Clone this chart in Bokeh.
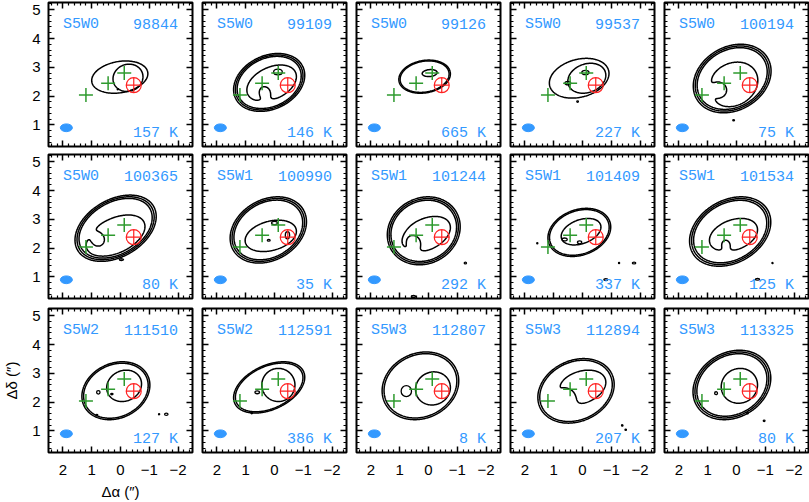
import numpy as np
from bokeh.plotting import figure
from bokeh.layouts import column, row
from bokeh.models import Range1d, LinearAxis, FixedTicker, CustomJSTickFormatter, Label
from bokeh.embed import file_html
from bokeh.resources import INLINE

# ---------------- data ----------------
fields = ["S5W0"] * 6 + ["S5W1"] * 4 + ["S5W2"] * 2 + ["S5W3"] * 3
ids = ["98844", "99109", "99126", "99537", "100194",
       "100365", "100990", "101244", "101409", "101534",
       "111510", "112591", "112807", "112894", "113325"]
temps = [157, 146, 665, 227, 75, 80, 35, 292, 337, 125, 127, 386, 8, 207, 80]

cross_x = [1.2, 0.43, -0.13]
cross_y = [2.04, 2.45, 2.80]
peak_x = [-0.46]
peak_y = [2.38]
beam_x, beam_y, beam_w, beam_h = [1.88], [0.90], 0.42, 0.27

# outer contour envelope: left x, right x, bottom y, top y, tilt (deg), number of outer levels
outer_xl = [1.00, 1.42, 1.03, 1.15, 1.50, 1.58, 1.54, 1.43, 1.20, 1.63, 1.34, 1.42, 1.61, 1.55, 1.51]
outer_xr = [-0.95, -1.05, -0.76, -0.92, -1.20, -1.24, -1.11, -1.10, -0.98, -1.19, -1.02, -1.05, -1.05, -1.10, -1.19]
outer_yb = [2.10, 1.47, 2.10, 1.93, 1.42, 1.54, 1.48, 1.42, 1.71, 1.37, 1.39, 1.62, 1.39, 1.27, 1.39]
outer_yt = [3.22, 3.48, 3.25, 3.31, 3.80, 3.84, 3.78, 3.78, 3.38, 3.78, 3.40, 3.40, 3.74, 3.51, 3.80]
outer_tilt = [10, 25, 10, 15, 30, 30, 30, 30, 20, 30, 25, 25, 25, 25, 30]
n_outer = [1, 3, 2, 1, 3, 3, 3, 3, 2, 3, 2, 2, 2, 2, 3]

# inner contour: extents, tilt, and depression (x, y, width, depth)
inner_xl = [0.26, 0.96, 0.22, 0.51, 0.98, 1.20, 1.02, 0.95, 0.74, 0.94, 0.48, 0.44, 0.45, 0.91, 0.53]
inner_xr = [-0.78, -0.76, -0.30, -0.81, -0.74, -0.85, -0.76, -0.76, -0.64, -0.73, -0.73, -0.71, -0.76, -0.81, -0.73]
inner_yb = [2.16, 1.81, 2.68, 2.10, 1.63, 1.72, 1.88, 1.85, 2.11, 1.88, 2.02, 2.02, 1.90, 1.90, 1.96]
inner_yt = [3.11, 3.08, 2.92, 3.14, 3.18, 3.15, 2.97, 3.10, 3.03, 3.03, 3.11, 3.17, 3.05, 3.11, 3.17]
inner_tilt = [20, 25, 5, 20, 30, 25, 15, 25, 20, 20, 25, 25, 25, 20, 25]
hole_x = [0, 0.32, 0, 0, 0.50, 0.72, 0, 0.45, 0, 0.35, 0, 0, 0, 0.45, 0]
hole_y = [0, 2.20, 0, 0, 2.25, 2.30, 0, 2.25, 0, 2.20, 0, 0, 0, 2.25, 0]
hole_s = [0.1, 0.17, 0.1, 0.1, 0.20, 0.16, 0.1, 0.18, 0.1, 0.15, 0.1, 0.1, 0.1, 0.20, 0.1]
hole_d = [0, 0.8, 0, 0, 0.8, 0.9, 0, 0.8, 0, 0.6, 0, 0, 0, 0.8, 0]

# small isolated contours: panel index, x, y, width, height
loop_panel = [0, 1, 3, 3, 3, 4, 5, 6, 6, 6, 7, 7, 8, 8, 8, 8, 8, 8, 9, 9,
              10, 10, 10, 10, 10, 11, 11, 12, 13, 13, 14, 14, 14]
loop_x = [0.09, -0.12, 0.51, -0.10, 0.17, 0.10, -0.03, 0.00, 0.20, -0.45, -1.28, 0.52,
          0.62, 0.10, 1.57, -1.27, -1.79, -0.81, -1.25, -0.73,
          0.77, -1.59, -1.34, 0.82, 0.30, 0.60, 0.79, 0.77, -1.38, -1.50, 0.71, -0.38, -0.96]
loop_y = [2.24, 2.84, 2.45, 2.82, 1.81, 1.16, 1.60, 2.87, 2.27, 2.45, 1.48, 0.32,
          2.30, 2.20, 2.17, 1.48, 1.48, 0.91, 1.48, 0.92,
          2.34, 1.58, 1.58, 1.55, 2.28, 2.34, 1.62, 2.38, 1.19, 1.04, 2.31, 1.62, 1.35]
loop_w = [0.05, 0.30, 0.20, 0.25, 0.06, 0.06, 0.15, 0.20, 0.10, 0.15, 0.08, 0.15,
          0.18, 0.15, 0.04, 0.04, 0.12, 0.14, 0.04, 0.15,
          0.12, 0.12, 0.04, 0.06, 0.08, 0.16, 0.05, 0.36, 0.05, 0.05, 0.10, 0.06, 0.06]
loop_h = [0.04, 0.20, 0.12, 0.15, 0.05, 0.04, 0.06, 0.12, 0.06, 0.25, 0.06, 0.07,
          0.10, 0.10, 0.04, 0.04, 0.06, 0.06, 0.04, 0.06,
          0.12, 0.08, 0.04, 0.05, 0.05, 0.10, 0.05, 0.38, 0.05, 0.05, 0.10, 0.06, 0.05]

outer_levels = [0.05, 0.067, 0.088]
inner_level = [0.3]

x_major = [-2, -1, 0, 1, 2]
y_major = [1, 2, 3, 4, 5]

# ---------------- styling ----------------
BLUE = "#3399ff"
GREEN = "#2e9a2e"
RED = "#ff2222"
FW, FH = 144, 144

X = np.linspace(-2.5, 2.5, 201)
Y = np.linspace(0.25, 5.25, 201)
XX, YY = np.meshgrid(X, Y)
K_OUT = np.sqrt(2 * np.log(1 / outer_levels[0]))
K_IN = np.sqrt(2 * np.log(1 / inner_level[0]))


def envelope(xl, xr, yb, yt, tilt, k):
    cx, cy = (xl + xr) / 2, (yb + yt) / 2
    hx, hy = abs(xl - xr) / 2, (yt - yb) / 2
    t = np.radians(tilt)
    c2, s2 = np.cos(t) ** 2, np.sin(t) ** 2
    a2 = (hx ** 2 * c2 - hy ** 2 * s2) / (c2 - s2)
    b2 = (hy ** 2 * c2 - hx ** 2 * s2) / (c2 - s2)
    sa, sb = np.sqrt(max(a2, 1e-4)) / k, np.sqrt(max(b2, 1e-4)) / k
    phi = -t
    dx, dy = XX - cx, YY - cy
    u = dx * np.cos(phi) + dy * np.sin(phi)
    v = -dx * np.sin(phi) + dy * np.cos(phi)
    return np.exp(-0.5 * ((u / sa) ** 2 + (v / sb) ** 2))


def ticks(lo, hi, major):
    allt = np.round(np.arange(lo, hi + 1e-9, 0.2), 2)
    return [float(t) for t in allt if not any(abs(t - m) < 1e-6 for m in major)]


x_minor = ticks(-2.4, 2.4, x_major)
y_minor = ticks(0.4, 5.2, y_major)


def style_axis(ax, major, minor, show, standoff):
    ax.ticker = FixedTicker(ticks=major, minor_ticks=minor)
    ax.major_tick_in = 6
    ax.major_tick_out = 0
    ax.minor_tick_in = 3
    ax.minor_tick_out = 0
    ax.major_tick_line_width = 1.5
    ax.minor_tick_line_width = 1.2
    ax.major_tick_line_color = "black"
    ax.minor_tick_line_color = "black"
    ax.axis_line_color = None
    if show:
        ax.major_label_text_font = "Liberation Sans"
        ax.major_label_text_font_size = "15px"
        ax.major_label_text_color = "black"
        ax.major_label_standoff = standoff
        ax.major_label_overrides = {-1: "\u22121", -2: "\u22122"}
    else:
        ax.formatter = CustomJSTickFormatter(code="return ''")
        ax.major_label_text_font_size = "0px"
        ax.major_label_standoff = 0


rows = []
for r in range(3):
    figs = []
    for c in range(5):
        i = r * 5 + c
        p = figure(frame_width=FW, frame_height=FH,
                   x_range=Range1d(2.5, -2.5), y_range=Range1d(0.25, 5.25),
                   output_backend="svg", toolbar_location=None,
                   min_border_left=48 if c == 0 else 5,
                   min_border_right=1 if c == 4 else 5,
                   min_border_top=[2, 4, 5][r],
                   min_border_bottom=[4, 5, 48][r])
        p.grid.visible = False
        p.outline_line_color = "black"
        p.outline_line_width = 2
        p.background_fill_color = "white"
        p.border_fill_color = "white"

        p.add_layout(LinearAxis(), "above")
        p.add_layout(LinearAxis(), "right")
        style_axis(p.below[0], x_major, x_minor, r == 2, 12)
        style_axis(p.above[0], x_major, x_minor, False, 0)
        style_axis(p.left[0], y_major, y_minor, c == 0, 8)
        style_axis(p.right[0], y_major, y_minor, False, 0)
        if r == 2 and c == 0:
            for ax, lab in ((p.below[0], "\u0394\u03b1 (\u2033)"), (p.left[0], "\u0394\u03b4 (\u2033)")):
                ax.axis_label = lab
                ax.axis_label_text_font = "Liberation Sans"
                ax.axis_label_text_font_size = "15px"
                ax.axis_label_text_font_style = "normal"
                ax.axis_label_text_color = "black"
            p.below[0].axis_label_standoff = 5
            p.left[0].axis_label_standoff = 9

        # contours
        zo = envelope(outer_xl[i], outer_xr[i], outer_yb[i], outer_yt[i], outer_tilt[i], K_OUT)
        p.contour(X, Y, zo, levels=outer_levels[:n_outer[i]], line_color="black", line_width=1.5)
        zi = envelope(inner_xl[i], inner_xr[i], inner_yb[i], inner_yt[i], inner_tilt[i], K_IN)
        zi = zi - hole_d[i] * np.exp(-0.5 * ((XX - hole_x[i]) ** 2 + (YY - hole_y[i]) ** 2) / hole_s[i] ** 2)
        p.contour(X, Y, zi, levels=inner_level, line_color="black", line_width=1.5)
        sel = [k for k, pi in enumerate(loop_panel) if pi == i]
        if sel:
            p.ellipse(x=[loop_x[k] for k in sel], y=[loop_y[k] for k in sel],
                      width=[loop_w[k] for k in sel], height=[loop_h[k] for k in sel],
                      fill_color=None, line_color="black", line_width=1.3)

        # markers
        p.scatter(cross_x, cross_y, marker="cross", size=14, line_color=GREEN, line_width=1.5)
        p.scatter(peak_x, peak_y, marker="circle_cross", size=15, fill_color=None,
                  line_color=RED, line_width=1.2)
        p.ellipse(x=beam_x, y=beam_y, width=beam_w, height=beam_h,
                  fill_color=BLUE, line_color=BLUE)

        # texts
        for txt, xx, yy, al in ((fields[i], 2.0, 4.49, "left"), (ids[i], -2.0, 4.49, "right"),
                                (f"{temps[i]} K", -2.0, 0.70, "right")):
            p.add_layout(Label(x=xx, y=yy, text=txt, text_align=al, text_baseline="alphabetic",
                               text_color=BLUE, text_font="Liberation Mono", text_font_size="15px"))
        figs.append(p)
    rows.append(row(*figs))

layout = column(*rows)
open("out.html", "w").write(file_html(layout, INLINE))
